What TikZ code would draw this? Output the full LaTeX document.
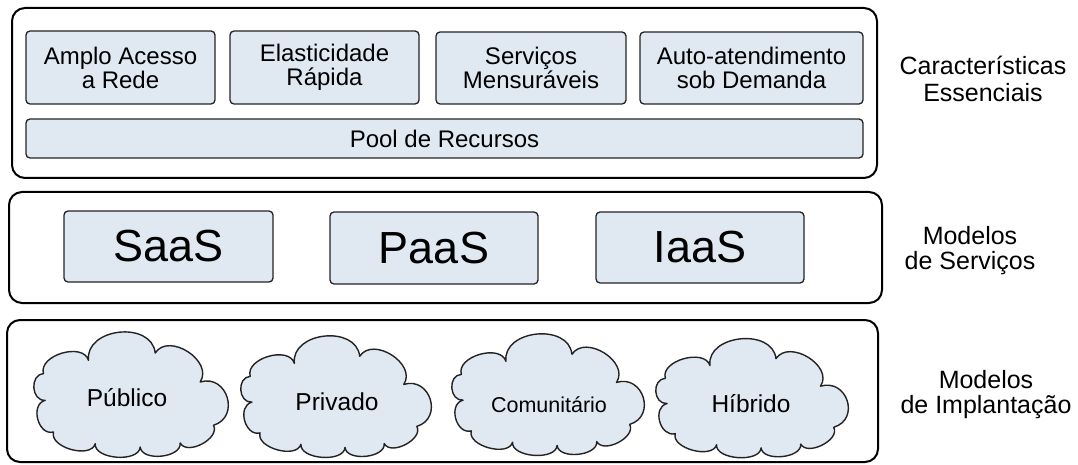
\documentclass[tikz,border=0pt]{standalone}
\usepackage{fontspec}
\setmainfont{Liberation Sans}
\definecolor{boxfill}{RGB}{224,232,242}
\definecolor{edge}{RGB}{35,35,35}
\tikzset{
  panel/.style={draw=black, line width=2pt, rounded corners=13pt},
  item/.style={draw=edge, fill=boxfill, line width=1.3pt, rounded corners=4pt,
    inner sep=0pt, align=center, font=\fontsize{24}{24}\selectfont},
  bigitem/.style={item, font=\fontsize{45}{45}\selectfont},
  puff/.style={draw=edge, fill=boxfill, line width=1.4pt, line join=round},
  cloudtext/.style={font=\fontsize{24.5}{24.5}\selectfont, anchor=base, inner sep=0pt},
  layerlabel/.style={align=center, inner sep=0pt, anchor=base,
    font=\fontsize{25}{25}\selectfont}
}
% outline of one cloud, centred on the origin (about 192 x 124 units)
\newcommand\cloudoutline{%
  (-42.5,-34.7)
  to[bend right=90, looseness=1.05] (-87.5,-21.3)
  to[bend right=90, looseness=1.35] (-85.8,5.3)
  to[bend right=90, looseness=1.25] (-77.5,37)
  to[bend right=90, looseness=0.95] (-35.8,48.7)
  to[bend right=90, looseness=0.9] (9.2,52)
  to[bend right=90, looseness=0.95] (49.2,48)
  to[bend right=90, looseness=1.0] (82.5,30.3)
  to[bend right=90, looseness=1.6] (69.2,-13)
  to[bend right=90, looseness=1.2] (24.2,-42)
  to[bend right=90, looseness=1.25] (-42.5,-34.7) -- cycle}

\begin{document}
\begin{tikzpicture}[x=1pt, y=-1pt]
\useasboundingbox (0,0) rectangle (1078,465);

% layer frames
\draw[panel] (12,8) rectangle (877,178);
\draw[panel] (9,192) rectangle (882,303);
\draw[panel] (7,320) rectangle (878,462);

% essential characteristics
\node[item, minimum width=189, minimum height=73] (acesso) at (120.5,67.5) {Amplo Acesso\\a Rede};
\node[item, minimum width=189, minimum height=73] (elast) at (324.5,67.5) {Elasticidade\\Rápida};
\node[item, minimum width=190, minimum height=72] (mensur) at (531,68) {Serviços\\Mensuráveis};
\node[item, minimum width=223, minimum height=72] (auto) at (751.5,68) {Auto-atendimento\\sob Demanda};
\node[item, minimum width=837, minimum height=39] (pool) at (444.5,138.5) {Pool de Recursos};

% service models
\node[bigitem, minimum width=209, minimum height=71] (saas) at (168.5,246.5) {SaaS};
\node[bigitem, minimum width=208, minimum height=72] (paas) at (434,248) {PaaS};
\node[bigitem, minimum width=208, minimum height=71] (iaas) at (700,247.5) {IaaS};

% deployment models
\begin{scope}[shift={(131,395)}]
  \draw[puff] \cloudoutline;
\end{scope}
\begin{scope}[shift={(336,397)}, xscale=0.98, yscale=0.97]
  \draw[puff] \cloudoutline;
\end{scope}
\begin{scope}[shift={(548,395)}, xscale=0.99, yscale=0.97]
  \draw[puff] \cloudoutline;
\end{scope}
\begin{scope}[shift={(752,398.5)}, xscale=0.99, yscale=0.95]
  \draw[puff] \cloudoutline;
\end{scope}
\node[cloudtext] (publico) at (127,406) {Público};
\node[cloudtext] (privado) at (337,410) {Privado};
\node[cloudtext, font=\fontsize{21.5}{21.5}\selectfont] (comunit) at (549,412) {Comunitário};
\node[cloudtext] (hibrido) at (751,412) {Híbrido};

% layer titles (anchored on the baseline of their last line)
\node[layerlabel, font=\fontsize{25}{27}\selectfont] (essenciais) at (983,102) {Características\\Essenciais};
\node[layerlabel] (servicos) at (970,269) {Modelos\\de Serviços};
\node[layerlabel] (implant) at (986,413) {Modelos\\de Implantação};
\end{tikzpicture}
\end{document}
